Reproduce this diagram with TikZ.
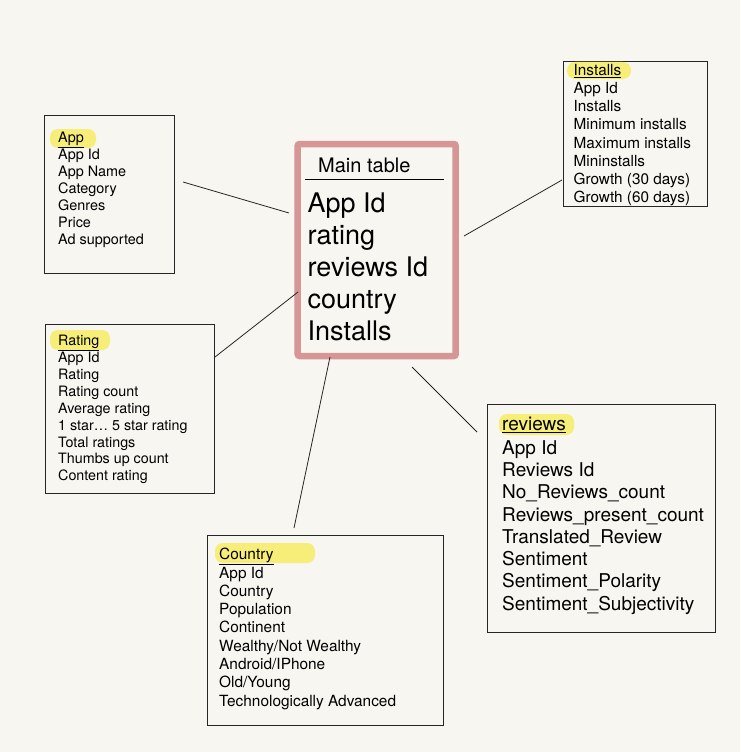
\documentclass[tikz,border=0pt]{standalone}
\usepackage{fontspec}
\setmainfont{TeX Gyre Heros}
\definecolor{paper}{RGB}{248,246,241}
\definecolor{rose}{RGB}{214,150,150}
\definecolor{marker}{RGB}{247,238,122}
\tikzset{
	tbl/.style={draw=black!85, line width=0.8pt, inner sep=0pt},
	fields/.style={anchor=north west, align=left, inner sep=0pt},
	hilite/.style={fill=marker, rounded corners=8pt},
	link/.style={draw=black!85, line width=0.8pt}
}
\begin{document}
\begin{tikzpicture}[x=1pt, y=-1pt]
	\fill[paper] (0,0) rectangle (740,752);
	\useasboundingbox (0,0) rectangle (740,752);
	
	\node[draw=rose, line width=6.5pt, rounded corners=2pt, minimum width=158pt, minimum height=212pt] (main) at (376.7,250) {};
	\node[anchor=north west, inner sep=0pt, font=\fontsize{20}{24}\selectfont] (mainTitle) at (318,158) {Main table};
	\draw[line width=0.8pt] (305,179.3) -- (444,179.3);
	\node[fields, font=\fontsize{27}{32}\selectfont] (mainTxt) at (307.5,193) {App Id\\rating\\reviews Id\\country\\Installs};
	
	\node[tbl, minimum width=130pt, minimum height=158pt] (app) at (109,194) {};
	\fill[hilite] (50,129) rectangle (96,148);
	\node[fields, font=\fontsize{14.4}{17}\selectfont] (appTxt) at (58,132) {\underline{App}\\App Id\\App Name\\Category\\Genres\\Price\\Ad supported};
	
	\node[tbl, minimum width=144pt, minimum height=145pt] (installs) at (635,133.5) {};
	\fill[hilite] (567,62) rectangle (631,79);
	\node[fields, font=\fontsize{15.3}{18.2}\selectfont] (installsTxt) at (573.5,64) {\underline{Installs}\\App Id\\Installs\\Minimum installs\\Maximum installs\\Mininstalls\\Growth (30 days)\\Growth (60 days)};
	
	\node[tbl, minimum width=169pt, minimum height=169pt] (rating) at (129.5,408.5) {};
	\fill[hilite] (50,330) rectangle (110,350);
	\node[fields, font=\fontsize{14.3}{16.9}\selectfont] (ratingTxt) at (58,335) {\underline{Rating}\\App Id\\Rating\\Rating count\\Average rating\\1 star… 5 star rating\\Total ratings\\Thumbs up count\\Content rating};
	
	\node[tbl, minimum width=236pt, minimum height=190pt] (country) at (325,630) {};
	\fill[hilite] (215,543) rectangle (315,563);
	\node[fields, font=\fontsize{15.4}{18.3}\selectfont] (countryTxt) at (219,548) {\underline{Country}\\App Id\\Country\\Population\\Continent\\Wealthy/Not Wealthy\\Android/IPhone\\Old/Young\\Technologically Advanced};
	
	\node[tbl, minimum width=228pt, minimum height=228pt] (reviews) at (601,518) {};
	\fill[hilite] (499,414) rectangle (574,435);
	\node[fields, font=\fontsize{19}{22.3}\selectfont] (reviewsTxt) at (502,416.5) {\underline{reviews}\\[1.7pt]App Id\\Reviews Id\\No\_Reviews\_count\\Reviews\_present\_count\\Translated\_Review\\Sentiment\\Sentiment\_Polarity\\Sentiment\_Subjectivity};
	
	\coordinate (appEnd) at (183,182);
	\coordinate (mainW) at (289,213);
	\coordinate (installsEnd) at (562,180);
	\coordinate (mainE) at (464,236);
	\coordinate (ratingEnd) at (215,357);
	\coordinate (mainSW) at (298,292);
	\coordinate (countryEnd) at (294,528);
	\coordinate (mainS) at (330,357);
	\coordinate (reviewsEnd) at (477,432);
	\coordinate (mainSE) at (412,367);
	
	\draw[link] (appEnd) -- (mainW);
	\draw[link] (installsEnd) -- (mainE);
	\draw[link] (ratingEnd) -- (mainSW);
	\draw[link] (countryEnd) -- (mainS);
	\draw[link] (reviewsEnd) -- (mainSE);
\end{tikzpicture}
\end{document}
